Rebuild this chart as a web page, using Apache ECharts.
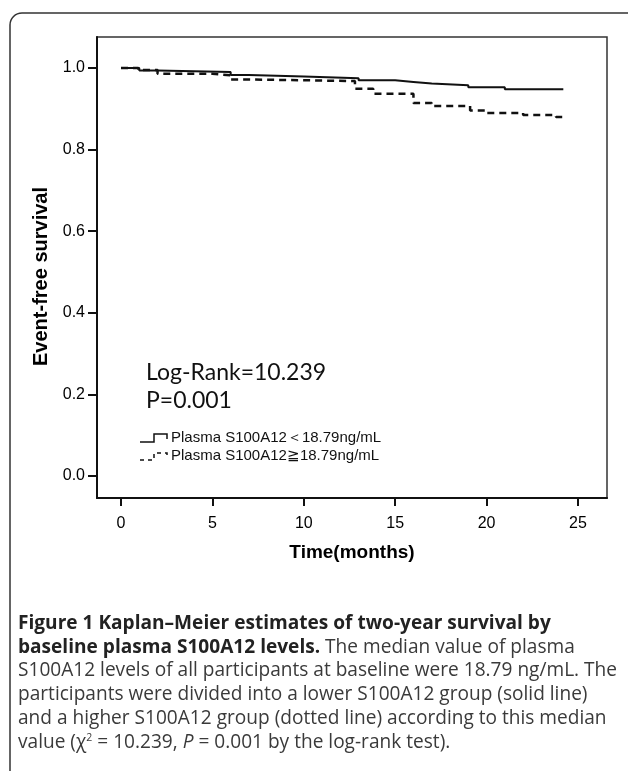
<!DOCTYPE html>
<html>
<head>
<meta charset="utf-8">
<script src="https://cdn.jsdelivr.net/npm/echarts@6/dist/echarts.min.js"></script>
<style>
html,body{margin:0;padding:0;background:#fff;}
#chart{width:628px;height:771px;}
</style>
</head>
<body>
<div id="chart"></div>
<script>
// ---- data ----
const xTicks = [0, 5, 10, 15, 20, 25];
const yTicks = [0.0, 0.2, 0.4, 0.6, 0.8, 1.0];
const lowTime  = [0, 1.0, 2.0, 6.0, 7.0, 10.0, 13.0, 15.0, 16.0, 17.0, 19.0, 21.0, 24.2];
const lowSurv  = [1.0, 0.994, 0.990, 0.983, 0.979, 0.975, 0.970, 0.966, 0.962, 0.958, 0.953, 0.948, 0.948];
const highTime = [0, 0.95, 2.0, 5.0, 6.0, 7.0, 12.8, 13.8, 16.0, 17.0, 19.1, 20.0, 22.0, 23.8, 24.2];
const highSurv = [1.0, 0.995, 0.986, 0.982, 0.972, 0.968, 0.949, 0.937, 0.914, 0.907, 0.896, 0.890, 0.885, 0.880, 0.880];
const seriesNames = ['Plasma S100A12\uFF1C18.79ng/mL', 'Plasma S100A12\u226718.79ng/mL'];
const statLines = ['Log-Rank=10.239', 'P=0.001'];
const xName = 'Time(months)';
const yName = 'Event-free survival';

const captionLines = [
  [{b: 'Figure 1 Kaplan\u2013Meier estimates of two-year survival by'}],
  [{b: 'baseline plasma S100A12 levels.'}, {r: ' The median value of plasma'}],
  [{r: 'S100A12 levels of all participants at baseline were 18.79 ng/mL. The'}],
  [{r: 'participants were divided into a lower S100A12 group (solid line)'}],
  [{r: 'and a higher S100A12 group (dotted line) according to this median'}],
  [{r: 'value (\u03C7'}, {s: '2'}, {r: ' = 10.239, '}, {i: 'P'}, {r: ' = 0.001 by the log-rank test).'}]
];

const zip = (a, b) => a.map((v, i) => [v, b[i]]);

// ---- caption scaling (fit font to the original column width) ----
const capFont = 'Open Sans';
const capSize = 20;
const cv = document.createElement('canvas').getContext('2d');
cv.font = capSize + 'px "' + capFont + '"';
const refW = cv.measureText(captionLines[2][0].r).width;
const capScale = 599 / refW;

const rich = {
  b: {fontFamily: capFont, fontSize: capSize, fontWeight: 'bold', fill: '#222'},
  r: {fontFamily: capFont, fontSize: capSize, fill: '#3a3a3a'},
  i: {fontFamily: capFont, fontSize: capSize, fontStyle: 'italic', fill: '#3a3a3a'},
  s: {fontFamily: capFont, fontSize: 11, fill: '#3a3a3a', verticalAlign: 'top', padding: [0, 0, 9, 0]}
};

const captionGraphics = captionLines.map((parts, i) => ({
  type: 'text',
  x: 18, y: 623 + i * 23.8,
  scaleX: capScale,
  style: {
    text: parts.map(p => { const k = Object.keys(p)[0]; return '{' + k + '|' + p[k] + '}'; }).join(''),
    rich: rich,
    verticalAlign: 'middle',
    fontFamily: capFont, fontSize: capSize
  }
}));

const chart = echarts.init(document.getElementById('chart'), null, {renderer: 'canvas'});

const tickFont = {fontFamily: 'Liberation Sans', fontSize: 16, color: '#000'};

chart.setOption({
  animation: false,
  backgroundColor: '#fff',
  grid: {
    left: 97, right: 21, top: 37, bottom: 273,
    show: true, borderColor: '#333', borderWidth: 1.5,
    containLabel: false, outerBoundsMode: 'none'
  },
  xAxis: {
    type: 'value',
    min: -1.313, max: 26.59,
    name: xName, nameLocation: 'middle', nameGap: 45,
    nameTextStyle: {fontFamily: 'Liberation Sans', fontSize: 19, fontWeight: 'bold', color: '#000'},
    axisLine: {show: true, onZero: false, lineStyle: {color: '#111', width: 2}},
    axisTick: {show: true, length: 8, customValues: xTicks, lineStyle: {color: '#111', width: 2}},
    axisLabel: Object.assign({customValues: xTicks, margin: 18}, tickFont),
    splitLine: {show: false}
  },
  yAxis: {
    type: 'value',
    min: -0.0539, max: 1.076,
    name: yName, nameLocation: 'middle', nameGap: 44,
    nameTextStyle: {fontFamily: 'Liberation Sans', fontSize: 20, fontWeight: 'bold', color: '#000', padding: [0, 18, 0, 0]},
    axisLine: {show: true, onZero: false, lineStyle: {color: '#111', width: 2}},
    axisTick: {show: true, length: 9, customValues: yTicks, lineStyle: {color: '#111', width: 2}},
    axisLabel: Object.assign({customValues: yTicks, margin: 12, formatter: v => v.toFixed(1)}, tickFont),
    splitLine: {show: false}
  },
  series: [
    {
      name: seriesNames[0], type: 'line', step: 'end', showSymbol: false,
      data: zip(lowTime, lowSurv),
      lineStyle: {color: '#111', width: 2}
    },
    {
      name: seriesNames[1], type: 'line', step: 'end', showSymbol: false,
      data: zip(highTime, highSurv),
      lineStyle: {color: '#111', width: 2.5, type: [7, 5]}
    }
  ],
  graphic: [
    {type: 'rect', z: -10, shape: {x: 10, y: 13, width: 640, height: 800, r: 12},
     style: {fill: 'none', stroke: '#333', lineWidth: 1.5}},
    {type: 'text', x: 146, y: 373, style: {text: statLines[0], fontFamily: 'Lato', fontSize: 23, fill: '#111', verticalAlign: 'middle'}},
    {type: 'text', x: 146, y: 401, style: {text: statLines[1], fontFamily: 'Lato', fontSize: 23, fill: '#111', verticalAlign: 'middle'}},
    {type: 'polyline', shape: {points: [[140, 442], [154, 442], [154, 434], [167, 434], [167, 439]]},
     style: {stroke: '#111', lineWidth: 1.5, fill: 'none'}},
    {type: 'polyline', shape: {points: [[140, 460], [154, 460], [154, 453], [167, 453], [167, 458]]},
     style: {stroke: '#111', lineWidth: 1.5, fill: 'none', lineDash: [4, 4]}},
    {type: 'text', x: 171, y: 438, style: {text: seriesNames[0], fontFamily: 'Liberation Sans', fontSize: 15, fill: '#111', verticalAlign: 'middle'}},
    {type: 'text', x: 171, y: 456, style: {text: seriesNames[1], fontFamily: 'Liberation Sans', fontSize: 15, fill: '#111', verticalAlign: 'middle'}}
  ].concat(captionGraphics)
});
</script>
</body>
</html>
